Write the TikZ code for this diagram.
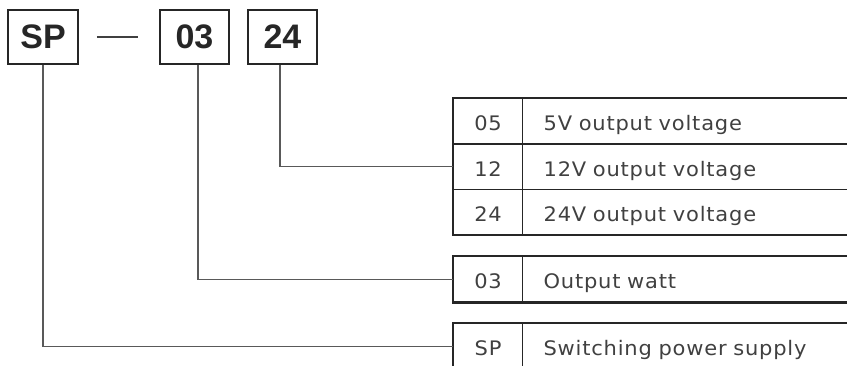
\documentclass[tikz,border=0pt]{standalone}
\usepackage{fontspec}
\setmainfont{Liberation Sans}
\newfontfamily\descfont[LetterSpace=4,FakeStretch=1.05]{DejaVu Sans}
\begin{document}
\begin{tikzpicture}[x=1pt,y=-1pt,
  topbox/.style={draw=black!85, line width=1.8pt, minimum width=69pt, minimum height=54pt, inner sep=0pt, font=\fontsize{34}{34}\selectfont\bfseries, text=black!85},
  codecell/.style={draw=black!85, line width=1.2pt, minimum width=69pt, minimum height=45.3pt, inner sep=0pt, text height=19pt, text depth=0pt, font=\fontsize{20}{20}\descfont, text=black!75, anchor=north west},
  desccell/.style={draw=black!85, line width=1.2pt, minimum height=45.3pt, inner xsep=21pt, inner ysep=0pt, text width=298pt, text height=19pt, text depth=0pt, align=left, font=\fontsize{20}{20}\descfont, text=black!75, anchor=north west},
  outer/.style={draw=black!85, line width=2.6pt},
  conn/.style={draw=black!65, line width=1.3pt},
  dashline/.style={draw=black!75, line width=1.3pt}
]
\clip (0,0) rectangle (847,365);
% top boxes
\node[topbox, minimum width=70pt] (sp) at (43,37) {SP};
\node[topbox] (b03) at (194.5,37) {03};
\node[topbox] (b24) at (282.5,37) {24};
\draw[dashline, shorten <=18pt, shorten >=21pt] (sp.east) -- (b03.west);
% table 1
\node[codecell] (c05) at (453,98) {05};
\node[desccell] (d05) at (522,98) {5V output voltage};
\node[codecell] (c12) at (453,143.3) {12};
\node[desccell] (d12) at (522,143.3) {12V output voltage};
\node[codecell] (c24) at (453,188.6) {24};
\node[desccell] (d24) at (522,188.6) {24V output voltage};
\draw[outer] (c05.north west) rectangle (d24.south east);
% table 2
\node[codecell] (c03) at (453,256) {03};
\node[desccell] (d03) at (522,256) {Output watt};
\draw[outer] (c03.north west) rectangle (d03.south east);
% table 3
\node[codecell] (csp) at (453,323) {SP};
\node[desccell] (dsp) at (522,323) {Switching power supply};
\draw[outer] (csp.north west) rectangle (dsp.south east);
% connectors
\draw[conn] ([xshift=-2.5pt]b24.south) |- (c12.west);
\draw[conn] ([xshift=3.5pt]b03.south) |- (c03.west);
\draw[conn] (sp.south) |- (csp.west);
\end{tikzpicture}
\end{document}
